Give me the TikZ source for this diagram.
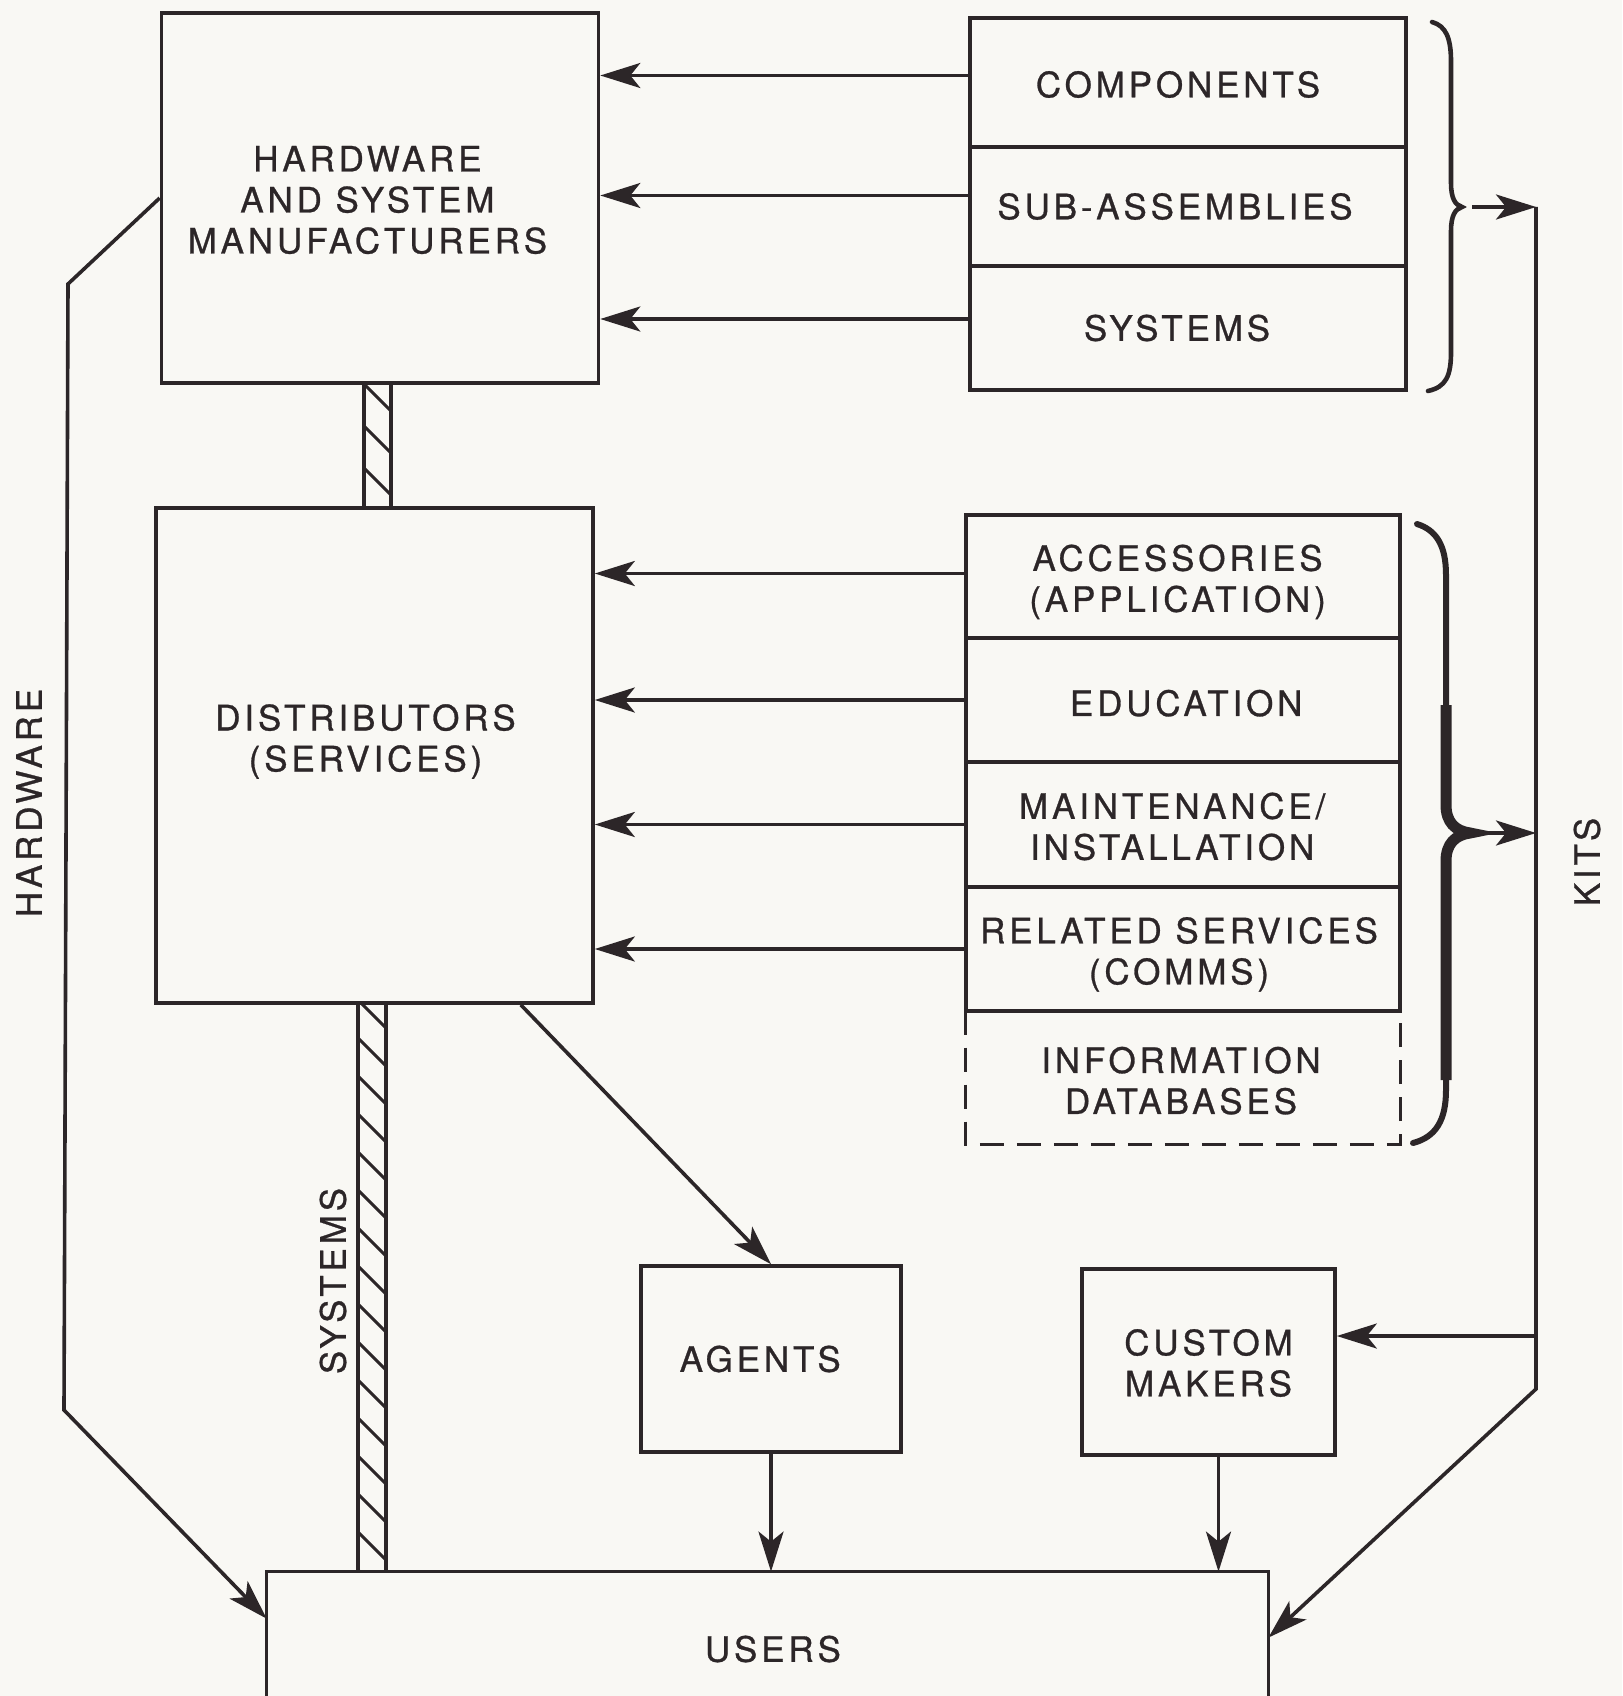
\documentclass[tikz,border=0pt]{standalone}
\usepackage{fontspec}
\setmainfont{TeX Gyre Heros}[LetterSpace=11,FakeBold=0.8]
\usetikzlibrary{arrows.meta,calc}
\definecolor{ink}{RGB}{44,38,40}
\definecolor{paper}{RGB}{249,248,244}
\newcommand\dfont{\fontsize{17.5}{20.5}\selectfont}
\begin{document}
\begin{tikzpicture}[x=0.5pt,y=-0.5pt,
  box/.style={draw=ink, line width=1.8pt, inner sep=0pt, align=center, text=ink, font=\dfont},
  plain/.style={inner sep=0pt, align=center, text=ink, font=\dfont},
  tx/.style n args={3}{label={[plain,xshift=#1,yshift=#2]center:{#3}}},
  ln/.style={draw=ink, line width=1.8pt},
  arr/.style={draw=ink, line width=1.8pt, -{Stealth[length=20pt,width=12.5pt,inset=5pt]}},
  hatch/.style={draw=ink, line width=1.5pt}]
\fill[paper] (0,0) rectangle (1622,1696);
\useasboundingbox (0,0) rectangle (1622,1696);

% main boxes
\node[box, minimum width=218.5pt, minimum height=185pt, tx={-6.3pt}{-1pt}{HARDWARE\\AND SYSTEM\\MANUFACTURERS}] (hw) at (380,198) {};
\node[box, minimum width=218.5pt, minimum height=247.5pt, tx={-4.5pt}{7pt}{DISTRIBUTORS\\(SERVICES)}] (dist) at (374.5,755.5) {};
\node[box, minimum width=130pt, minimum height=93pt, tx={-5.4pt}{0pt}{AGENTS}] (agents) at (771,1359) {};
\node[box, minimum width=126.5pt, minimum height=93pt, tx={0pt}{-0.5pt}{CUSTOM\\MAKERS}] (custom) at (1208.5,1362) {};
\node[plain, minimum width=500.5pt, minimum height=62pt, tx={2.7pt}{-7.5pt}{USERS}] (users) at (767.5,1634) {};
\draw[ln] (users.south west) -- (users.north west) -- (users.north east) -- (users.south east);

% upper stack
\node[box, minimum width=218pt, minimum height=64.5pt, tx={-5pt}{-1pt}{COMPONENTS}] (comp) at (1188,82.5) {};
\node[box, minimum width=218pt, minimum height=59.5pt, tx={-6.5pt}{0pt}{SUB-ASSEMBLIES}] (sub) at (1188,206.5) {};
\node[box, minimum width=218pt, minimum height=62pt, tx={-5.5pt}{0pt}{SYSTEMS}] (sys) at (1188,328) {};

% lower stack
\node[box, minimum width=217pt, minimum height=61.5pt, tx={-2.7pt}{-2.7pt}{ACCESSORIES\\(APPLICATION)}] (acc) at (1183,576.5) {};
\node[box, minimum width=217pt, minimum height=62pt, tx={1.6pt}{-1.6pt}{EDUCATION}] (edu) at (1183,700) {};
\node[box, minimum width=217pt, minimum height=62.5pt, tx={-5.4pt}{-1pt}{MAINTENANCE/\\INSTALLATION}] (mnt) at (1183,824.5) {};
\node[box, minimum width=217pt, minimum height=62pt, tx={-2pt}{-2.7pt}{RELATED SERVICES\\(COMMS)}] (rel) at (1183,949) {};
\node[plain, minimum width=217pt, minimum height=66.5pt, tx={-1pt}{-1.6pt}{INFORMATION\\DATABASES}] (info) at (1183,1077.5) {};
\draw[ln, dash pattern=on 12pt off 6.5pt] (info.north west) -- (info.south west) -- (info.south east) -- (info.north east);

% arrows from upper stack
\path ([yshift=3.5pt]comp.west) coordinate (a1) ([yshift=5.5pt]sub.west) coordinate (a2) ([yshift=4.5pt]sys.west) coordinate (a3);
\draw[arr] (a1) -- (a1 -| hw.east);
\draw[arr] (a2) -- (a2 -| hw.east);
\draw[arr] (a3) -- (a3 -| hw.east);

% arrows from lower stack
\path ([yshift=1.5pt]acc.west) coordinate (c1) (edu.west) coordinate (c2) (mnt.west) coordinate (c3) (rel.west) coordinate (c4);
\draw[arr] (c1) -- (c1 -| dist.east);
\draw[arr] (c2) -- (c2 -| dist.east);
\draw[arr] (c3) -- (c3 -| dist.east);
\draw[arr] (c4) -- (c4 -| dist.east);

% hatched bars
\begin{scope}
  \clip (364,383) rectangle (391,508);
  \foreach \y in {398,440,482,524} \draw[hatch] (364,\y-14) -- (391,\y+13);
\end{scope}
\draw[ln] (364,383) -- (364,508) (391,383) -- (391,508);
\begin{scope}
  \clip (358,1003) rectangle (386,1572);
  \foreach \y in {1000,1038,...,1580} \draw[hatch] (358,\y) -- (386,\y+28);
\end{scope}
\draw[ln] (358,1003) -- (358,1572) (386,1003) -- (386,1572);

% hardware route
\coordinate (h1) at (68,284);
\coordinate (h2) at (64,1410);
\draw[arr] (hw.west) -- (h1) -- (h2) -- ($(users.north west)+(0,47)$);

% distributors to agents, to users
\draw[arr] ($(dist.south east)+(-74,0)$) -- (agents.north);
\draw[arr] (agents.south) -- (agents.south |- users.north);
\draw[arr] ([xshift=5pt]custom.south) -- ([xshift=5pt]custom.south |- users.north);

% braces
\draw[ink, line width=2.3pt, line cap=round] (1432,22) .. controls (1446,26) and (1451,38) .. (1451,62) -- (1451,183) .. controls (1451,198) and (1455,205) .. (1462,207) .. controls (1455,209) and (1451,216) .. (1451,231) -- (1451,352) .. controls (1451,376) and (1446,387) .. (1428,391);
\draw[ink, line width=3pt, line cap=round] (1417,524) .. controls (1436,530) and (1446,545) .. (1446,575) -- (1446,805) .. controls (1446,822) and (1455,831) .. (1470,833) .. controls (1455,835) and (1446,844) .. (1446,861) -- (1446,1090) .. controls (1446,1120) and (1436,1137) .. (1413,1143);
\draw[ink, line width=5.5pt] (1446,705) -- (1446,805) .. controls (1446,822) and (1455,831) .. (1470,833) .. controls (1455,835) and (1446,844) .. (1446,861) -- (1446,1080);

% kits route
\coordinate (b1) at (1472,207);
\coordinate (k1) at (1536,207);
\coordinate (b2) at (1478,833);
\coordinate (k4) at (1536,833);
\coordinate (k3) at (1536,1336);
\coordinate (k2) at (1536,1389);
\draw[arr] (b1) -- (k1);
\draw[arr] (b2) -- (k4);
\draw[arr] (k1) -- (k2) -- ($(users.north east)+(0,66)$);
\draw[arr] (k3) -- (k3 -| custom.east);

% rotated labels
\node[plain, rotate=90] (lhw) at (29,803) {HARDWARE};
\node[plain, rotate=90] (lsys) at (333,1281) {SYSTEMS};
\node[plain, rotate=90] (lkits) at (1587,862) {KITS};
\end{tikzpicture}
\end{document}
